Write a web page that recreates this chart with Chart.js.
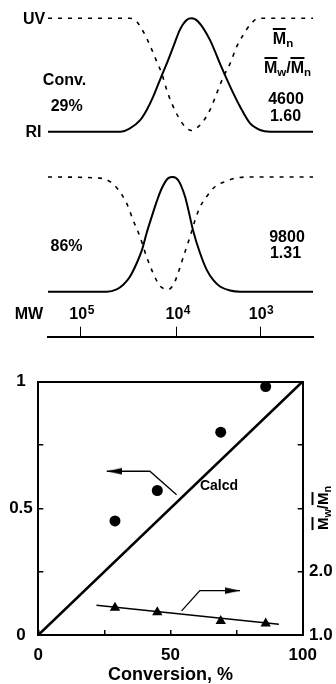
<!DOCTYPE html>
<html><head><meta charset="utf-8">
<script src="https://cdn.jsdelivr.net/npm/chart.js@4.4.1/dist/chart.umd.min.js"></script>
<style>
html,body{margin:0;padding:0;background:#fff;}
#wrap{position:relative;width:336px;height:684px;overflow:hidden;background:#fff;}
canvas{position:absolute;left:0;}
.t{position:absolute;transform:translate(-50%,-50%);font:bold 16px "Liberation Sans",Arial,sans-serif;line-height:1;white-space:nowrap;color:#000;}
.ob{border-top:2px solid #000;}
.sb{font-size:0.72em;position:relative;top:0.3em;}
.rot{transform:translate(-50%,-50%) rotate(-90deg);}
</style></head>
<body><div id="wrap">
<canvas id="c1" width="336" height="150" style="top:0px"></canvas>
<canvas id="c2" width="336" height="150" style="top:160px"></canvas>
<canvas id="c3" width="336" height="45" style="top:300px"></canvas>
<canvas id="c4" width="336" height="324" style="top:360px"></canvas>

<div class="t" style="left:34px;top:18.5px">UV</div>
<div class="t" style="left:33.5px;top:131.7px">RI</div>
<div class="t" style="left:64.5px;top:80px">Conv.</div>
<div class="t" style="left:66.7px;top:105.5px">29%</div>
<div class="t" style="left:283px;top:39px"><span class="ob">M</span><span class="sb">n</span></div>
<div class="t" style="left:287.5px;top:68px"><span class="ob">M</span><span class="sb">w</span>/<span class="ob">M</span><span class="sb">n</span></div>
<div class="t" style="left:286px;top:99px">4600</div>
<div class="t" style="left:285.5px;top:116.3px">1.60</div>
<div class="t" style="left:66.5px;top:246px">86%</div>
<div class="t" style="left:287px;top:236.5px">9800</div>
<div class="t" style="left:285.5px;top:253.3px">1.31</div>
<div class="t" style="left:29px;top:313.5px">MW</div>
<div class="t" style="left:219px;top:485.3px;font-size:14px">Calcd</div>
<div class="t rot" style="left:322px;top:508px;font-size:15px"><span class="ob">M</span><span class="sb">w</span>/<span class="ob">M</span><span class="sb">n</span></div>
</div>
<script>
// ---------- GPC traces (elution position 0..100, normalised height) ----------
const p1RiPos = [0, 27.2, 30.9, 34.7, 37.2, 39.7, 42.3, 44.8, 47.3, 49.8, 52.3, 54.2, 56.7, 61.1, 64.9, 68.7, 72.5, 76.2, 80.0, 83.8, 100];
const p1RiH   = [0, 0, 0.03, 0.10, 0.19, 0.31, 0.46, 0.60, 0.75, 0.90, 0.985, 1.0, 0.97, 0.81, 0.60, 0.40, 0.22, 0.075, 0.015, 0, 0];
const p1UvPos = [0, 30.9, 33.5, 36.0, 38.5, 41.0, 42.9, 44.8, 46.7, 49.2, 51.7, 54.2, 56.0, 58.0, 61.1, 63.7, 66.2, 68.7, 71.2, 73.7, 76.2, 79.4, 100];
const p1UvH   = [1, 1, 0.97, 0.88, 0.76, 0.62, 0.515, 0.37, 0.25, 0.13, 0.045, 0.01, 0.03, 0.075, 0.19, 0.34, 0.485, 0.60, 0.75, 0.855, 0.94, 1.0, 1.0];

const p2RiPos = [0, 22.2, 25.9, 28.4, 30.9, 33.5, 35.4, 37.2, 39.1, 41.0, 42.9, 45.4, 47.1, 49.2, 51.7, 52.9, 54.8, 57.4, 59.9, 62.4, 64.9, 68.7, 72.5, 100];
const p2RiH   = [0, 0, 0.02, 0.06, 0.13, 0.25, 0.36, 0.51, 0.65, 0.785, 0.90, 0.99, 1.0, 0.97, 0.83, 0.72, 0.53, 0.335, 0.19, 0.10, 0.045, 0.01, 0, 0];
const p2UvPos = [0, 19.6, 23.4, 26.5, 29.7, 32.1, 34.7, 37.2, 39.7, 42.3, 45.4, 47.3, 48.6, 51.1, 53.6, 55.5, 57.4, 59.9, 63.0, 66.8, 70.6, 76.2, 100];
const p2UvH   = [1, 0.99, 0.96, 0.89, 0.77, 0.625, 0.48, 0.305, 0.16, 0.05, 0.02, 0.06, 0.13, 0.305, 0.48, 0.625, 0.74, 0.83, 0.915, 0.96, 0.99, 1.0, 1.0];

const mwTickPos  = [12.3, 48.6, 80.0];
const mwTickBase = '10';
const mwTickExp  = ['5', '4', '3'];

// ---------- conversion plot ----------
const conversion   = [29, 45, 69, 86];
const fracMeasured = [0.45, 0.57, 0.80, 0.98];
const pdiMeasured  = [1.43, 1.36, 1.22, 1.18];
const calcdX = [0, 100];
const calcdY = [0, 1];
const pdiFitX = [22, 91];
const pdiFitY = [1.47, 1.17];
const leftArrowX  = [52.3, 42.2, 25.9];
const leftArrowY  = [0.553, 0.646, 0.646];
const rightArrowX = [54.2, 61.1, 76.3];
const rightArrowY = [1.38, 1.70, 1.70];

const xTicks = [0, 25, 50, 75, 100];
const xTickLabels = ['0', '', '50', '', '100'];
const yTicks = [0, 0.25, 0.5, 0.75, 1];
const yTickLabels = ['0', '', '0.5', '', '1'];
const y2Ticks = [1, 2, 3, 4, 5];
const y2TickLabels = ['1.0', '2.0', '', '', ''];
const xTitle = 'Conversion, %';

const FONT = '"Liberation Sans", Arial, sans-serif';
Chart.defaults.font.family = FONT;
Chart.defaults.font.weight = 'bold';
Chart.defaults.color = '#000';

const pts = (xs, ys) => xs.map((x, i) => ({x: x, y: ys[i]}));
const noPlug = {legend: {display: false}, tooltip: {enabled: false}};

function gpcPanel(id, padTop, padBottom, riX, riY, uvX, uvY) {
  new Chart(document.getElementById(id), {
    type: 'line',
    data: {datasets: [
      {data: pts(riX, riY), borderColor: '#000', borderWidth: 2, pointRadius: 0, pointHoverRadius: 0,
       cubicInterpolationMode: 'monotone', clip: false},
      {data: pts(uvX, uvY), borderColor: '#000', borderWidth: 1.6, borderDash: [4, 6], pointRadius: 0, pointHoverRadius: 0,
       cubicInterpolationMode: 'monotone', clip: false}
    ]},
    options: {
      responsive: false, animation: false, events: [],
      layout: {padding: {left: 48, right: 23, top: padTop, bottom: padBottom}},
      plugins: noPlug,
      scales: {x: {type: 'linear', min: 0, max: 100, display: false},
               y: {min: 0, max: 1, display: false}}
    }
  });
}
gpcPanel('c1', 18.3, 18.3, p1RiPos, p1RiH, p1UvPos, p1UvH);
gpcPanel('c2', 17, 18.3, p2RiPos, p2RiH, p2UvPos, p2UvH);

// MW axis: tick labels "10^n" with real superscript drawn at the scale's tick pixels
const mwLabelPlugin = {
  id: 'mwLabels',
  afterDraw(chart) {
    const s = chart.scales.x, ctx = chart.ctx;
    ctx.save();
    ctx.fillStyle = '#000';
    ctx.textBaseline = 'alphabetic';
    const baseY = 19;
    mwTickPos.forEach((v, i) => {
      const px = s.getPixelForValue(v);
      ctx.font = 'bold 16px ' + FONT;
      const wb = ctx.measureText(mwTickBase).width;
      ctx.font = 'bold 12px ' + FONT;
      const we = ctx.measureText(mwTickExp[i]).width;
      const x0 = px - (wb + we) / 2 + 1;
      ctx.font = 'bold 16px ' + FONT;
      ctx.textAlign = 'left';
      ctx.fillText(mwTickBase, x0, baseY);
      ctx.font = 'bold 12px ' + FONT;
      ctx.fillText(mwTickExp[i], x0 + wb + 0.5, baseY - 5);
    });
    ctx.restore();
  }
};
new Chart(document.getElementById('c3'), {
  type: 'line',
  data: {datasets: []},
  options: {
    responsive: false, animation: false, events: [],
    layout: {padding: {left: 48, right: 23, top: 2.7, bottom: 0}},
    plugins: noPlug,
    scales: {
      x: {type: 'linear', position: 'top', min: 0, max: 100,
          afterBuildTicks: s => { s.ticks = mwTickPos.map(v => ({value: v})); },
          afterFit: s => { s.height = 34; },
          ticks: {display: false},
          grid: {drawOnChartArea: false, drawTicks: true, tickLength: 10, color: '#000', lineWidth: 1},
          border: {display: true, color: '#000', width: 2}},
      y: {display: false, min: 0, max: 1}
    }
  },
  plugins: [mwLabelPlugin]
});

// arrowheads (tip at the image centre)
function arrowHead(dir) {
  const c = document.createElement('canvas');
  c.width = 30; c.height = 9;
  const g = c.getContext('2d');
  g.fillStyle = '#000';
  g.beginPath();
  if (dir < 0) { g.moveTo(15, 4.5); g.lineTo(30, 1.2); g.lineTo(30, 7.8); }
  else { g.moveTo(15, 4.5); g.lineTo(0, 1.2); g.lineTo(0, 7.8); }
  g.closePath(); g.fill();
  return c;
}
const headL = arrowHead(-1), headR = arrowHead(1);

const axFont = {size: 17, weight: 'bold'};
const tickGrid = {drawOnChartArea: false, drawTicks: true, tickLength: -5, color: '#000', lineWidth: 1.5};
const brd = {display: true, color: '#000', width: 2};

new Chart(document.getElementById('c4'), {
  type: 'line',
  data: {datasets: [
    {data: pts(conversion, fracMeasured), showLine: false, xAxisID: 'x', yAxisID: 'y',
     pointStyle: 'circle', pointRadius: 5.5, pointBackgroundColor: '#000', pointBorderColor: '#000', pointBorderWidth: 0, clip: false},
    {data: pts(conversion, pdiMeasured), showLine: false, xAxisID: 'x', yAxisID: 'y2',
     pointStyle: 'triangle', pointRadius: 6, pointBackgroundColor: '#000', pointBorderColor: '#000', pointBorderWidth: 0, clip: false},
    {data: pts(calcdX, calcdY), xAxisID: 'x', yAxisID: 'y', borderColor: '#000', borderWidth: 2.6, pointRadius: 0},
    {data: pts(pdiFitX, pdiFitY), xAxisID: 'x', yAxisID: 'y2', borderColor: '#000', borderWidth: 1.4, pointRadius: 0},
    {data: pts(leftArrowX, leftArrowY), xAxisID: 'x', yAxisID: 'y', borderColor: '#000', borderWidth: 1.3,
     pointRadius: c => c.dataIndex === leftArrowX.length - 1 ? 4 : 0,
     pointStyle: c => c.dataIndex === leftArrowX.length - 1 ? headL : 'circle'},
    {data: pts(rightArrowX, rightArrowY), xAxisID: 'x', yAxisID: 'y2', borderColor: '#000', borderWidth: 1.3,
     pointRadius: c => c.dataIndex === rightArrowX.length - 1 ? 4 : 0,
     pointStyle: c => c.dataIndex === rightArrowX.length - 1 ? headR : 'circle'}
  ]},
  options: {
    responsive: false, animation: false, events: [],
    layout: {padding: {top: 12.7, left: 0, right: 0, bottom: 0}},
    plugins: noPlug,
    scales: {
      x: {type: 'linear', position: 'bottom', min: 0, max: 100,
          afterBuildTicks: s => { s.ticks = xTicks.map(v => ({value: v})); },
          afterFit: s => { s.height = 49; },
          ticks: {autoSkip: false, maxRotation: 0, padding: 15.3, font: axFont, callback: (v, i) => xTickLabels[i]},
          grid: tickGrid, border: brd,
          title: {display: true, text: xTitle, font: {size: 18, weight: 'bold', lineHeight: 1}, padding: 0}},
      xTop: {type: 'linear', position: 'top', min: 0, max: 100,
          afterFit: s => { s.height = 0; },
          ticks: {display: false}, grid: {drawOnChartArea: false, drawTicks: false}, border: brd},
      y: {type: 'linear', position: 'left', min: 0, max: 1,
          afterBuildTicks: s => { s.ticks = yTicks.map(v => ({value: v})); },
          afterFit: s => { s.width = 38.3; },
          ticks: {autoSkip: false, crossAlign: 'center', padding: 10.5, font: axFont, callback: (v, i) => yTickLabels[i]},
          grid: tickGrid, border: brd},
      y2: {type: 'linear', position: 'right', min: 1, max: 5,
          afterBuildTicks: s => { s.ticks = y2Ticks.map(v => ({value: v})); },
          afterFit: s => { s.width = 33.3; },
          ticks: {autoSkip: false, padding: 11.3, font: axFont, callback: (v, i) => y2TickLabels[i]},
          grid: tickGrid, border: brd}
    }
  }
});
</script>
</body></html>
